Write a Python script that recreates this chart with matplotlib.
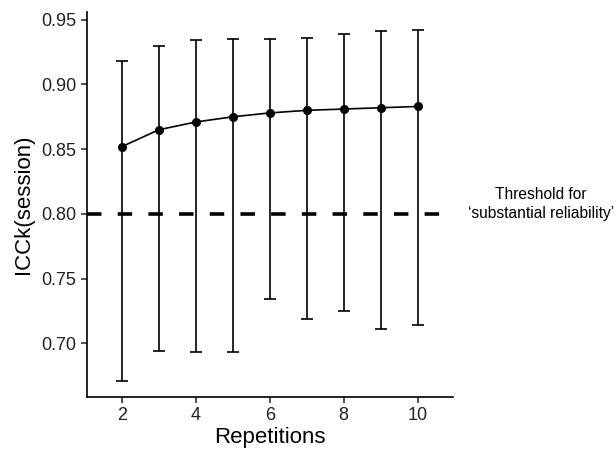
import numpy as np
import matplotlib as mpl
import matplotlib.pyplot as plt

mpl.rcParams['font.family'] = ['Liberation Sans', 'DejaVu Sans']

# values
reps = [2, 3, 4, 5, 6, 7, 8, 9, 10]
icck = [0.852, 0.865, 0.871, 0.875, 0.878, 0.880, 0.881, 0.882, 0.883]
ci_low = [0.671, 0.694, 0.693, 0.693, 0.734, 0.719, 0.725, 0.711, 0.714]
ci_high = [0.918, 0.930, 0.934, 0.935, 0.935, 0.936, 0.939, 0.941, 0.942]
threshold = 0.80

x = np.array(reps)
y = np.array(icck)
err = np.array([y - np.array(ci_low), np.array(ci_high) - y])

fig = plt.figure(figsize=(6.16, 4.54), dpi=100)
ax = fig.add_axes([0.141, 0.1256, 0.594, 0.848])

ax.axhline(threshold, color='black', lw=2.6, dashes=(4, 4.5))
ax.errorbar(x, y, yerr=err, color='black', lw=1.2, elinewidth=1.2,
            capsize=4, capthick=1.2, marker='o', markersize=5.5)

ax.set_xlim(1.05, 10.95)
ax.set_ylim(0.6585, 0.956)
ax.set_xticks([2, 4, 6, 8, 10])
ax.set_yticks([0.70, 0.75, 0.80, 0.85, 0.90, 0.95])
ax.set_yticklabels(['0.70', '0.75', '0.80', '0.85', '0.90', '0.95'])
ax.spines['top'].set_visible(False)
ax.spines['right'].set_visible(False)
ax.spines['left'].set_linewidth(1.2)
ax.spines['bottom'].set_linewidth(1.2)
ax.tick_params(labelsize=13, length=4, width=1.2, color='#333333',
               labelcolor='#222222')
ax.set_xlabel('Repetitions', fontsize=16, labelpad=2)
ax.set_ylabel('ICCk(session)', fontsize=16, labelpad=5)

fig.text(0.878, 0.551, 'Threshold for\n\u2018substantial reliability\u2019',
         ha='center', va='center', fontsize=11.2, linespacing=1.35)

fig.savefig('out.png', dpi=100)
